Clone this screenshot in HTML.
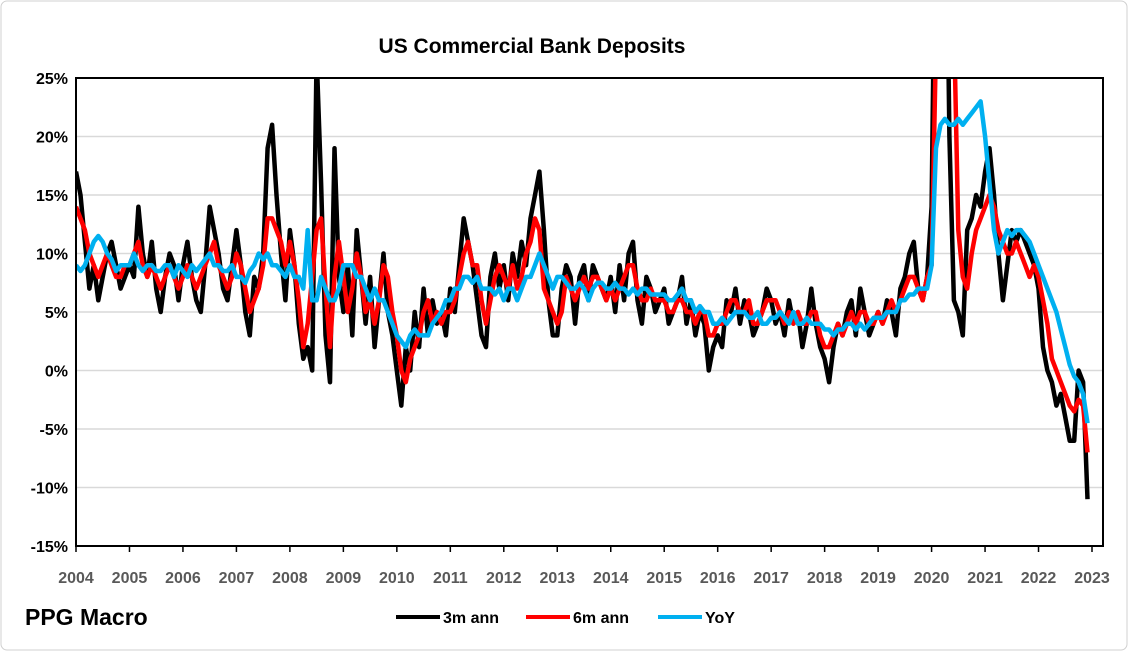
<!DOCTYPE html>
<html><head><meta charset="utf-8"><style>
body{margin:0;background:#fff;font-family:"Liberation Sans",Arial,sans-serif}
#wrap{position:relative;width:1128px;height:651px;overflow:hidden}
</style></head><body>
<div id="wrap">
<svg id="chart" width="1128" height="651">
<rect x="1" y="1" width="1126" height="649" rx="6" fill="#fff" stroke="#d0d0d0"/>
<text x="532" y="53" text-anchor="middle" font-size="21" font-weight="bold" fill="#000">US Commercial Bank Deposits</text>
<defs><clipPath id="pc"><rect x="76" y="78" width="1027" height="468"/></clipPath></defs>
<g id="grid"></g><g id="series" clip-path="url(#pc)"></g><g id="axes"></g>
<text x="25" y="625" font-size="23" font-weight="bold" fill="#000">PPG Macro</text>
<g>
<line x1="396" y1="617" x2="440" y2="617" stroke="#000" stroke-width="4"/>
<text x="443" y="623" font-size="16" font-weight="bold">3m ann</text>
<line x1="526" y1="617" x2="570" y2="617" stroke="#ff0000" stroke-width="4"/>
<text x="573" y="623" font-size="16" font-weight="bold">6m ann</text>
<line x1="658" y1="617" x2="702" y2="617" stroke="#00b0f0" stroke-width="4"/>
<text x="705" y="623" font-size="16" font-weight="bold">YoY</text>
</g>
</svg></div>
<script>
const startYear = 2004;
const yTicks = [25,20,15,10,5,0,-5,-10,-15];
const xTickYears = [2004,2005,2006,2007,2008,2009,2010,2011,2012,2013,2014,2015,2016,2017,2018,2019,2020,2021,2022,2023];
const ann3m = [
17,15,11,7,9,6,8,10,11,9,7,8,
9,8,14,10,8,11,7,5,8,10,9,6,
9,11,8,6,5,9,14,12,10,7,6,9,
12,9,5,3,8,7,10,19,21,15,10,6,
12,9,4,1,2,0,27,16,3,-1,19,8,
5,9,3,12,8,4,8,2,6,10,5,3,
0,-3,2,0,5,2,7,3,6,4,5,3,
7,5,9,13,11,9,6,3,2,8,10,7,
9,6,10,8,11,9,13,15,17,12,6,3,
3,7,9,8,4,8,9,6,9,8,7,6,
8,5,9,6,10,11,6,4,8,7,5,6,
7,4,5,6,8,4,6,3,5,4,0,2,
3,2,6,5,7,4,6,5,3,4,5,7,
6,4,5,3,6,4,5,2,4,7,4,2,
1,-1,2,4,3,5,6,3,7,5,3,4,
5,4,6,5,3,7,8,10,11,7,6,8,
14,45,60,50,20,6,5,3,12,13,15,14,
17,19,15,10,6,9,12,11,12,11,10,9,
7,2,0,-1,-3,-2,-4,-6,-6,0,-1,-11];
const ann6m = [
14,13,12,10,9,8,9,10,9,8,8,9,
9,10,11,9,8,9,8,7,8,9,8,7,
8,9,8,7,8,9,10,11,9,8,7,8,
10,9,7,5,6,7,9,13,13,12,11,9,
11,9,6,2,4,8,12,13,7,2,8,11,
8,5,7,10,8,5,6,4,6,9,8,5,
3,0,-1,1,2,3,5,6,4,5,4,5,
5,6,8,10,11,9,9,6,4,6,8,9,
8,7,9,7,8,10,11,13,12,7,6,5,
4,5,8,7,6,7,8,7,8,8,7,6,
7,6,7,8,9,9,7,6,6,7,6,6,
6,5,5,6,6,5,5,4,5,5,3,3,
4,4,5,6,6,5,5,6,4,4,5,6,
6,6,5,4,5,4,5,4,4,5,5,3,
2,2,3,4,3,4,5,4,5,5,4,4,
5,4,5,6,5,6,7,8,8,7,6,8,
9,28,40,45,40,30,12,8,7,10,12,13,
14,15,14,12,11,10,10,11,10,9,8,9,
8,6,4,1,0,-1,-2,-3,-3.5,-2.5,-3,-7];
const yoy = [
9,8.5,9,10,11,11.5,11,10,9.5,8.5,9,9,
9,10,9,8.5,9,9,8.5,8.5,9,9,8,9,
8.5,8,9,8.5,9,9.5,10,9,9,8.5,8.5,9,
8,8,7.5,8.5,9,10,9.5,10,9,9,8.5,8,
9,8,8,7,12,6,6,8,7,6,6,7,
9,9,9,8,8,7,6,7,6,6,5,4,
3,2.5,2,3,3.5,3,3,3,4,4.5,5,6,
6,7,7,8,8,7.5,8,7,7,7,6.5,7,
6,7,7,6,7,8,8,9,10,9,8,7,
8,8,7.5,7,7,7.5,7,6,7,7.5,7.5,7,
7,7.5,7,7,6.5,7,6.5,7,7,6.5,6.5,6.5,
6.5,6,6,6.5,7,6,6,5,5.5,5,5,4,
4,4.5,4,4.5,5,5,5,4.5,4.5,5,4,4,
4.5,4.5,5,4.5,4,5,4,4,4.5,4,4,4,
3.5,3.5,3,3.5,3.5,4,4,3.5,4,3.5,4,4.5,
4.5,4.5,5,5,5,6,6,6.5,6.5,7,7,7,
9,19,21,21.5,21,21,21.5,21,21.5,22,22.5,23,
20,16,12,10,11,12,11.5,12,12,11.5,11,10,
9,8,7,6,5,3.5,2,0.5,-0.5,-1,-2,-4.5];

const X0=76,X1=1092,Y0=78,Y1=546,VMAX=25,VMIN=-15;
function xScale(t){return X0+(t-2004)/19*(X1-X0);}
function yScale(v){return Y0+(VMAX-v)/(VMAX-VMIN)*(Y1-Y0);}
const NS="http://www.w3.org/2000/svg";
function mk(tag,attrs,parent){const e=document.createElementNS(NS,tag);for(const k in attrs)e.setAttribute(k,attrs[k]);parent.appendChild(e);return e;}
const grid=document.getElementById('grid'),axes=document.getElementById('axes'),series=document.getElementById('series');
yTicks.forEach(v=>{
  const y=yScale(v);
  if(v!==VMAX&&v!==VMIN){const g=mk('line',{x1:X0,x2:1103,y1:y,y2:y,stroke:'#d9d9d9','stroke-width':1.5},grid);
  
  }
  const t=mk('text',{x:68,y:y+6,'text-anchor':'end','font-size':16,'font-weight':'bold',fill:'#000'},axes);
  t.textContent=v+'%';
  
  
});
const frame=mk('rect',{x:X0,y:Y0,width:1103-X0,height:Y1-Y0,fill:'none',stroke:'#000','stroke-width':2},axes);


xTickYears.forEach(yr=>{
  const x=xScale(yr);
  const tk=mk('line',{x1:x,x2:x,y1:Y1,y2:Y1+6,stroke:'#000','stroke-width':1.5},axes);
  
  
  const t=mk('text',{x:x,y:583,'text-anchor':'middle','font-size':16,'font-weight':'bold',fill:'#595959'},axes);
  t.textContent=yr;
  
  
});
function drawLine(arr,color,name){
  const pts=arr.map((v,i)=>xScale(startYear+i/12).toFixed(1)+','+yScale(v).toFixed(1)).join(' ');
  const p=mk('polyline',{points:pts,fill:'none',stroke:color,'stroke-width':4.5,'stroke-linejoin':'round'},series);
  
  
}
drawLine(ann3m,'#000','series-3m-ann');
drawLine(ann6m,'#ff0000','series-6m-ann');
drawLine(yoy,'#00b0f0','series-yoy');
</script>
</body></html>
